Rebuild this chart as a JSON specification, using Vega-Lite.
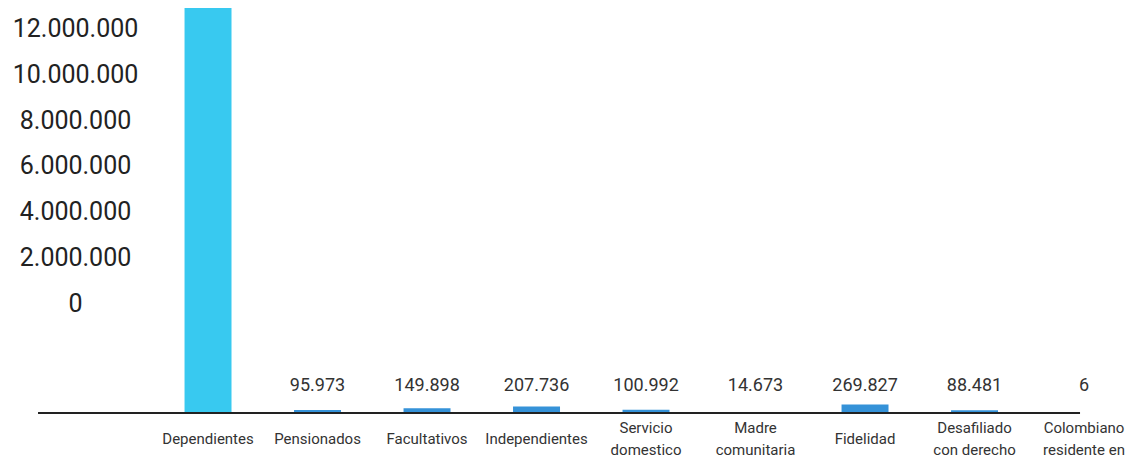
{
  "$schema": "https://vega.github.io/schema/vega-lite/v6.json",
  "width": 1103,
  "height": 413,
  "autosize": {"type": "none"},
  "padding": {"left": 38, "top": 0, "right": 0, "bottom": 45},
  "config": {
    "view": {"stroke": null},
    "font": "Roboto",
    "locale": {"number": {"decimal": ",", "thousands": ".", "grouping": [3], "currency": ["$", ""]}}
  },
  "data": {
    "values": [
      {"categoria": "Dependientes", "valor": 13000000},
      {"categoria": "Pensionados", "valor": 95973},
      {"categoria": "Facultativos", "valor": 149898},
      {"categoria": "Independientes", "valor": 207736},
      {"categoria": "Servicio domestico", "valor": 100992},
      {"categoria": "Madre comunitaria", "valor": 14673},
      {"categoria": "Fidelidad", "valor": 269827},
      {"categoria": "Desafiliado con derecho", "valor": 88481},
      {"categoria": "Colombiano residente en", "valor": 6}
    ]
  },
  "encoding": {
    "x": {
      "field": "categoria",
      "type": "nominal",
      "sort": null,
      "scale": {"paddingInner": 0.571, "paddingOuter": 0.822, "align": 0.814},
      "axis": {
        "title": null,
        "domain": false,
        "ticks": false,
        "grid": false,
        "labelAngle": 0,
        "labelBaseline": "middle",
        "labelPadding": {"condition": {"test": "indexof(datum.value, ' ') >= 0", "value": 14}, "value": 25},
        "labelFontSize": 15,
        "labelLineHeight": 22,
        "labelColor": "#333333",
        "labelLimit": 0,
        "labelOverlap": false,
        "labelExpr": "datum.label == 'Servicio domestico' ? ['Servicio','domestico'] : datum.label == 'Madre comunitaria' ? ['Madre','comunitaria'] : datum.label == 'Desafiliado con derecho' ? ['Desafiliado','con derecho'] : datum.label == 'Colombiano residente en' ? ['Colombiano','residente en'] : datum.label"
      }
    }
  },
  "layer": [
    {
      "mark": {"type": "point", "opacity": 0},
      "encoding": {
        "y": {
          "field": "valor",
          "type": "quantitative",
          "scale": {"domain": [-4790000, 13245000], "nice": false, "zero": false},
          "axis": {
            "orient": "left",
            "title": null,
            "values": [0, 2000000, 4000000, 6000000, 8000000, 10000000, 12000000],
            "format": ",d",
            "domain": false,
            "ticks": false,
            "grid": false,
            "labelAlign": "center",
            "labelBaseline": "middle",
            "labelPadding": -37,
            "labelFontSize": 25,
            "labelColor": "#222222"
          }
        }
      }
    },
    {
      "layer": [
        {
          "mark": {"type": "bar"},
          "encoding": {
            "y": {
              "field": "valor",
              "type": "quantitative",
              "scale": {"domain": [0, 13256790], "nice": false},
              "axis": null
            },
            "color": {
              "condition": {"test": "datum.categoria === 'Dependientes'", "value": "#38C9F0"},
              "value": "#3592D8"
            }
          }
        },
        {
          "transform": [{"filter": "datum.categoria != 'Dependientes'"}],
          "mark": {"type": "text", "dy": -27, "baseline": "middle", "fontSize": 18, "color": "#333333"},
          "encoding": {
            "y": {"datum": 0, "type": "quantitative"},
            "text": {"field": "valor", "type": "quantitative", "format": ",d"}
          }
        },
        {
          "data": {"values": [{}]},
          "mark": {"type": "rule", "color": "#222222", "strokeWidth": 2, "xOffset": -170, "x2Offset": -4},
          "encoding": {
            "y": {"datum": 0, "type": "quantitative"},
            "x": {"datum": "Dependientes", "type": "nominal"},
            "x2": {"datum": "Colombiano residente en"}
          }
        }
      ]
    }
  ],
  "resolve": {"scale": {"y": "independent"}, "axis": {"y": "independent"}}
}
